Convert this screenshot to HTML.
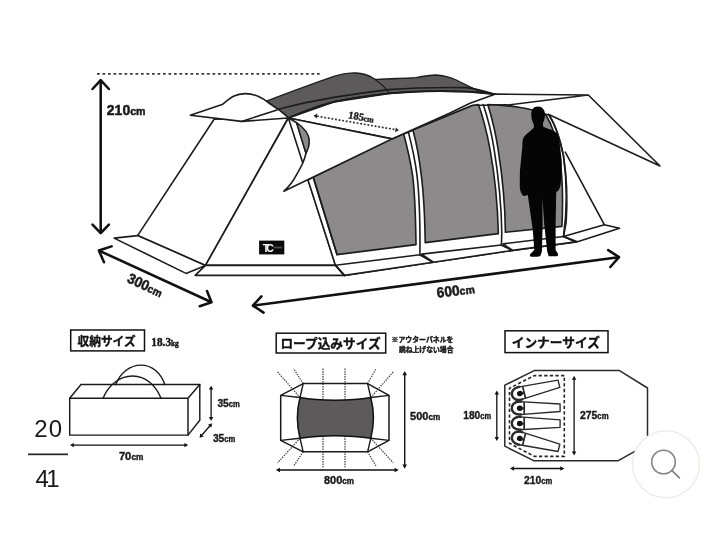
<!DOCTYPE html>
<html lang="ja">
<head>
<meta charset="utf-8">
<title>テント サイズ</title>
<style>
html,body{margin:0;padding:0;background:#fff;}
body{width:713px;height:560px;overflow:hidden;position:relative;font-family:"Liberation Sans","Noto Sans CJK JP",sans-serif;}
svg{position:absolute;left:0;top:0;display:block;will-change:transform;}
.ln{fill:none;stroke:#1c1c1c;stroke-width:1.6;stroke-linejoin:round;stroke-linecap:round;}
.w{fill:#fff;stroke:#1c1c1c;stroke-width:1.6;stroke-linejoin:round;}
.mesh{fill:#8d8a8b;stroke:#1c1c1c;stroke-width:1.6;stroke-linejoin:round;}
.roof{fill:#5c5a5b;stroke:#1c1c1c;stroke-width:1.3;stroke-linejoin:round;}
.ar{fill:none;stroke:#111;stroke-width:2.55;stroke-linecap:round;stroke-linejoin:round;}
.dim{font-family:"Liberation Sans","Noto Sans CJK JP",sans-serif;font-weight:bold;fill:#1a1a1a;stroke:#1a1a1a;stroke-width:0.38px;stroke-linejoin:round;}
.big{stroke-width:0.5px;}
.lab{font-family:"Liberation Sans","Noto Sans CJK JP",sans-serif;font-weight:bold;fill:#111;stroke:#111;stroke-width:0.35px;stroke-linejoin:round;}
.dot{fill:none;stroke:#3c3c3c;stroke-width:1.2;stroke-dasharray:1.4 1.1;}
.sm{fill:none;stroke:#1a1a1a;stroke-width:1.45;stroke-linecap:round;}
</style>
</head>
<body>
<svg width="713" height="560" viewBox="0 0 713 560">
<rect width="713" height="560" fill="#fff"/>

<!-- ===== MAIN TENT ===== -->
<g id="tent">
<!-- dotted height line -->
<line x1="97" y1="73.9" x2="320" y2="73.9" stroke="#3a3a3a" stroke-width="1.7" stroke-dasharray="2.7 2.8"/>

<!-- left side panel -->
<polygon class="w" points="214.1,119.3 288.2,118 205.5,265.4 137.6,235.6"/>
<!-- left skirt -->
<polygon class="w" points="114.1,238.1 137.6,235.6 205.5,265.4 186,273.4"/>
<!-- front triangle -->
<polygon class="w" points="288.4,118 205.5,265.4 335.5,265.4"/>
<!-- front base -->
<polygon class="w" points="205.5,265.4 335.6,265.4 344.5,275.4 195.2,275.4"/>

<!-- rear canopy -->
<polygon fill="#fff" points="470,103.3 494.6,94.1 588.3,95 660,166 548.2,114.3 506.3,105.2 478.5,104.6"/>
<path class="ln" d="M494.6,94.1 L588.3,95 L660,166 L548.2,114.3 M588.3,95 L506.3,105.2"/>

<!-- side wall background (white) -->
<path class="w" d="M308,180 L335.5,265.4 L344.5,275.4 L433.2,262.2 L512.6,250.4 L576,241.9 L563.5,236.5 C566.5,215 567.5,185 563.5,155.8 C560,138 555,124 549,115 L506,104.8 L472.4,105.5 L391.9,138.9 L313.5,177 Z"/>

<!-- mesh panels -->
<path class="mesh" d="M313.5,177 L391.9,138.9 L403.6,133.8 C408,150 411,165 412.6,175.4 C414.5,190 415.6,215 416,244.6 L337,254.6 L313.2,177.2 Z"/>
<path class="mesh" d="M412.9,130 L472.4,105.5 L478.5,104.6 C484,120 487.5,136 489.9,148.6 C493.5,168 497.5,200 498.4,233.6 L425.2,242.6 C424.8,215 423.8,195 421.3,175.4 C419.5,160 416.5,143 412.9,130 Z"/>
<path class="mesh" d="M487.8,104.6 C500,105 510,106 517.3,107 C530,109 540,111 546,115 C552,125 557,140 559.5,155.8 C562.5,175 563.2,200 561.9,226.4 L505.4,232.3 C505.2,205 503,180 498,148.6 C495.5,133 492,118 487.8,104.6 Z"/>
<!-- pole centre lines -->
<path class="ln" d="M408.3,131.9 C412.5,148 415.5,163 417,175.4 C419,192 420,220 420,245 L419.9,254.8"/>
<path class="ln" d="M483.2,104.6 C488.5,120 492,136 494,148.6 C497.5,170 501.3,200 501.8,233 L501.4,245"/>
<!-- rear arch band -->
<path class="ln" d="M549,115 C555,124 560,140 563.5,155.8 C566.5,175 567.6,200 566.2,222 L563.5,236.5"/>

<!-- sills -->
<polygon class="w" points="335.6,265.2 419.9,254.8 433.2,262.2 344.5,275.4"/>
<polygon class="w" points="421.6,254.1 501.4,245 512.6,250.4 433.2,262.2"/>
<polygon class="w" points="503.1,243.9 563.5,236.5 576,241.9 512.6,250.4"/>
<polygon class="w" points="563.5,236.5 604.3,224.7 619.5,228.2 577.5,241.7"/>
<path class="ln" d="M419.9,254.8 L433.2,262.2 M501.4,245 L512.6,250.4 M565,237 L576,241.9" stroke-width="2"/>
<path class="ln" d="M335.6,265.4 L344.5,275.4" stroke-width="1.9"/>
<!-- rear guy line -->
<line class="ln" x1="565.3" y1="152.2" x2="604.3" y2="224.7"/>

<!-- inner edge of front-right -->
<path class="ln" d="M296.6,122.8 L337,254.6"/>

<!-- dark roof -->
<path class="roof" d="M372,79.2 C382,79.6 392,78.8 400,78.3 C408,78 412,77.9 415.9,77.6 C424,76 430,75 436,75 C444,75.2 450,77.3 456.3,80 C461,82.3 465,84.3 468.9,86.3 C476,90 486,93 494.9,94.2 C480,92.4 473,91.8 466.4,91.6 C440,90.6 410,91.4 389.4,93.4 Z"/>
<path class="roof" d="M266.5,101.2 C290,92 315,83 333.8,76.4 C342,73.5 350,72.7 356,73 C363,73.4 369,75.6 373,78 C379,82 386,88 389.4,93.4 C370,95.3 350,98.3 333.8,101.9 C315,106.5 300,113 288.2,118 C286,115.3 282,112.3 278.5,109.6 C275,107.3 271,104 266.5,101.2 Z"/>
<path class="ln" d="M278.2,109.2 C296,104.5 315,100.5 333.8,97.4 C352,94.5 370,91.8 389,89.6 C410,88 440,87.2 466,87.6 C477,89 487,92 494.9,94.2" stroke-width="1.3"/>
<!-- white triangle (185) region -->
<polygon class="w" points="288.4,118 333.8,101.9 389.4,93.4 430,91 466.4,91.6 494.9,94.2 470,103.3 450,113 391.9,138.9"/>
<path d="M288.2,118 C300,113 315,106.5 333.8,101.9 C350,98.3 370,95.3 389.4,93.4 C410,91.4 440,90.6 466.4,91.6 C473,91.8 480,92.4 494.9,94.2" class="ln" stroke-width="1.5"/>

<!-- raised flap -->
<path class="w" d="M288.4,118 L391.9,138.9 L283.9,191.2 C290,185.5 293.5,180.5 295.9,175.8 C299,170.5 301.5,166 303.1,162.2 C304.5,159 305.3,156 306,153.3 C308,149.5 309.3,145 309.2,140.5 C308.6,133.5 303.5,127.5 296.7,122.8 Z"/>
<path d="M296.7,122.8 C303.5,127.5 308.6,133.5 309.2,140.5 C309.3,145 308,149.5 306,153.3 Z" fill="#8d8a8b" stroke="#1c1c1c" stroke-width="1.3" stroke-linejoin="round"/>

<!-- front canopy -->
<path class="w" d="M190.3,115.2 L222.1,104.5 C226,101.5 229.5,98.5 233.4,96.3 C237.5,94.3 241.5,93.5 245.7,93.6 C250,93.7 254.5,94.8 258,96.3 C262,98 265,100 268.3,102.5 C272,105 275,107.3 278.5,109.6 C282,112.3 286,115.3 288.2,118 L241.6,121.4 Z"/>
<line class="ln" x1="241.6" y1="121.4" x2="277" y2="110"/>

<!-- logo -->
<rect x="259.1" y="240.6" width="25.2" height="13.8" fill="#0a0a0a"/>
<text x="262.8" y="251.8" font-family="Liberation Sans, sans-serif" font-weight="bold" font-size="10.5" fill="#fff" letter-spacing="-3">TC</text>
<rect x="273.8" y="246.6" width="8.2" height="1.8" fill="#4a4a4a"/>

<!-- person -->
<path fill="#050505" d="M537.8,106.6 C542.3,106.6 545.1,110 545,114.8 C544.9,118.6 543.8,121.5 542.9,123.6 L543.2,126.8 C547.5,128.4 551,129.6 553.2,130.8 C556.5,132.5 558.5,134.5 559.1,138 C559.6,140.5 559.8,143 560,146 L561.7,160 C561.9,168 561.5,175 561,181 C560.8,186 559.5,189.5 557.6,191.6 L556.3,191.6 L556.2,194 L555.6,225.6 L555.6,249.9 L557.7,253.2 C558.4,255.3 557.8,256.3 556,256.3 L548.7,256.3 C548,253.5 547.6,252.5 547.2,251.4 L544.2,224 L542.4,198 L542.6,225.6 L541.9,251.4 L540.8,254.8 C540.3,256.2 539.5,256.7 537.5,256.7 L531.3,256.8 C529.3,256.4 529.6,254.6 530.8,253.5 L534.3,249.9 L532.8,230.1 L527.8,195 L527,195.2 C524,196.6 522.5,196 521.5,193.5 C519.8,190.5 519.6,187 519.8,183 L519.9,171 L522.4,146 C522.4,141 522.6,138.5 524.5,136.2 C527,133.5 531,130.8 533.9,127.6 L533.8,124.6 C532.2,121.3 531.2,118.4 531.3,114.8 C531.2,110 533.3,106.6 537.8,106.6 Z"/>
</g>

<!-- arrows main -->
<g class="ar">
<path d="M100.7,81 L100.7,232.5"/>
<path d="M92.5,89 L100.7,80.2 L108.9,89"/>
<path d="M92.5,224.6 L100.7,233.2 L108.9,224.6"/>
<path d="M99.5,250.8 L211,302"/>
<path d="M111.6,246.4 L98.9,250.5 L104,262.3"/>
<path d="M207,291 L211.5,302.2 L199.7,306.2"/>
<path d="M253.4,305.5 L618.6,257.3"/>
<path d="M261.4,296.4 L252.9,305.6 L263.6,312.6"/>
<path d="M608.2,250.1 L619,257.1 L610.3,267"/>
</g>
<!-- 185 dotted arrow -->
<line x1="317" y1="116.2" x2="396" y2="129.7" stroke="#2a2a2a" stroke-width="1.6" stroke-dasharray="1.9 1.75"/>
<path d="M313.6,115.7 L317.4,113.6 L316.6,118.5 Z M398.8,130.2 L395,132.3 L395.8,127.4 Z" fill="#222"/>

<!-- dim texts main -->
<text class="dim big" x="106.8" y="114.7" font-size="14.5" textLength="38.8" lengthAdjust="spacingAndGlyphs">210<tspan font-size="11">cm</tspan></text>
<text class="dim big" transform="translate(126.2,281.7) rotate(25.2)" font-size="14.5" textLength="37.3" lengthAdjust="spacingAndGlyphs">300<tspan font-size="11">cm</tspan></text>
<text class="dim big" transform="translate(437.3,297.8) rotate(-7)" font-size="14.5" textLength="38.1" lengthAdjust="spacingAndGlyphs">600<tspan font-size="11">cm</tspan></text>
<text transform="translate(347.8,118.2) rotate(10)" font-family="Liberation Serif, serif" font-weight="bold" font-size="10.6" fill="#222" stroke="#222" stroke-width="0.4" textLength="26" lengthAdjust="spacingAndGlyphs">185<tspan font-size="8">cm</tspan></text>

<!-- ===== STORAGE SIZE ===== -->
<g id="storage">
<rect x="70.7" y="330" width="73.8" height="20.9" fill="#fff" stroke="#111" stroke-width="1.5"/>
<text class="lab" x="77.6" y="345.6" font-size="12" textLength="58" lengthAdjust="spacingAndGlyphs">収納サイズ</text>
<text x="151.3" y="346.4" font-family="Liberation Serif, serif" font-weight="bold" fill="#1a1a1a" stroke="#1a1a1a" stroke-width="0.45" font-size="11.5" textLength="27.5" lengthAdjust="spacingAndGlyphs">18.3<tspan font-size="7.5">kg</tspan></text>
<!-- box -->
<path class="sm" d="M115.8,384.5 C120,373 130,365.1 141,365.1 C152,365.1 161,373 164.8,384.5"/>
<polygon class="sm" fill="#fff" points="69.7,398.2 81,384.5 199.8,384.5 199.8,420.3 188,435.1 69.7,435.1"/>
<path class="sm" d="M69.7,398.2 L188,398.2 L188,435.1 M188,398.2 L199.8,384.5"/>
<path class="sm" d="M103.1,398.2 C108,386 119,376 132.6,376 C146,376 156,386 161,398.2"/>
<!-- arrows -->
<g stroke="#111" stroke-width="1.3" fill="#111">
<line x1="211.1" y1="388" x2="211.1" y2="419"/>
<path d="M211.1,385.8 L213.3,389.6 L208.9,389.6 Z M211.1,420.9 L213.3,417.1 L208.9,417.1 Z" stroke="none"/>
<line x1="200.8" y1="436.3" x2="210.9" y2="424.7"/>
<path d="M199.6,437.8 L200.3,433.5 L203.7,436.4 Z M212.1,423.3 L211.4,427.6 L208,424.7 Z" stroke="none"/>
<line x1="72" y1="445.1" x2="186" y2="445.1"/>
<path d="M70,445.1 L73.8,442.9 L73.8,447.3 Z M188.2,445.1 L184.4,442.9 L184.4,447.3 Z" stroke="none"/>
</g>
<text class="dim" x="217.4" y="407.3" font-size="11.2" textLength="22.5" lengthAdjust="spacingAndGlyphs">35<tspan font-size="8.3">cm</tspan></text>
<text class="dim" x="212.9" y="442.4" font-size="11.2" textLength="22.5" lengthAdjust="spacingAndGlyphs">35<tspan font-size="8.3">cm</tspan></text>
<text class="dim" x="118.9" y="460.3" font-size="11.2" textLength="24.5" lengthAdjust="spacingAndGlyphs">70<tspan font-size="8.3">cm</tspan></text>
</g>

<!-- page counter -->
<text x="34.2" y="436.8" font-family="Liberation Sans, sans-serif" font-size="24" fill="#1a1a1a" letter-spacing="1.2">20</text>
<rect x="28" y="453.5" width="40" height="1.7" fill="#222"/>
<text x="35.6" y="486.6" font-family="Liberation Sans, sans-serif" font-size="24" fill="#1a1a1a" letter-spacing="-2.8">41</text>

<!-- ===== ROPE SIZE ===== -->
<g id="rope">
<rect x="276.2" y="333.2" width="109.5" height="19.8" fill="#fff" stroke="#111" stroke-width="1.5"/>
<text class="lab" x="280.4" y="347.9" font-size="12.8" textLength="100.2" lengthAdjust="spacingAndGlyphs">ロープ込みサイズ</text>
<text class="lab" x="391.6" y="342.2" font-size="6.85" textLength="61.8" lengthAdjust="spacingAndGlyphs">※アウターパネルを</text>
<text class="lab" x="398.9" y="351.7" font-size="6.85" textLength="54.6" lengthAdjust="spacingAndGlyphs">跳ね上げない場合</text>
<!-- dotted guy lines -->
<g class="dot">
<path d="M323,368.6 L323,467.2 M345,368.6 L345,467.2"/>
<path d="M303.2,383.6 L293.6,368.6 M300,397.5 L277.5,371.8"/>
<path d="M367.6,383.6 L376.1,368.6 M370.8,397.5 L393.3,371.8"/>
<path d="M303.2,451.8 L293.6,466.1 M300,438.3 L277.5,462.9"/>
<path d="M367.6,451.8 L376.1,466.1 M370.8,438.3 L393.3,462.9"/>
</g>
<polygon points="280.7,395.4 303.2,383.6 367.6,383.6 389,395.4 389,440.4 367.6,451.8 303.2,451.8 280.7,440.4" fill="none" stroke="#1a1a1a" stroke-width="1.5" stroke-linejoin="round"/>
<path d="M300,397.5 C320,401 350,401 370.8,397.5 C374.5,412 374.5,424 370.8,438.3 C350,434.8 320,434.8 300,438.3 C296.3,424 296.3,412 300,397.5 Z" fill="#5c5a5b" stroke="#111" stroke-width="1.5"/>
<path d="M303.2,383.6 L300,397.5 M367.6,383.6 L370.8,397.5 M303.2,451.8 L300,438.3 M367.6,451.8 L370.8,438.3 M280.7,395.4 L300,397.5 M389,395.4 L370.8,397.5 M280.7,440.4 L300,438.3 M389,440.4 L370.8,438.3" fill="none" stroke="#1a1a1a" stroke-width="1.4"/>
<!-- arrows -->
<g stroke="#111" stroke-width="1.4" fill="#111">
<line x1="404.7" y1="373.5" x2="404.7" y2="466.5"/>
<path d="M404.7,371 L407,375.2 L402.4,375.2 Z M404.7,468.8 L407,464.6 L402.4,464.6 Z" stroke="none"/>
<line x1="278" y1="470" x2="396.5" y2="470"/>
<path d="M275.8,470 L280,467.7 L280,472.3 Z M398.8,470 L394.6,467.7 L394.6,472.3 Z" stroke="none"/>
</g>
<text class="dim" x="410.1" y="419.5" font-size="11.2" textLength="30.1" lengthAdjust="spacingAndGlyphs">500<tspan font-size="8.3">cm</tspan></text>
<text class="dim" x="324" y="484" font-size="11.2" textLength="30" lengthAdjust="spacingAndGlyphs">800<tspan font-size="8.3">cm</tspan></text>
</g>

<!-- ===== INNER SIZE ===== -->
<g id="inner">
<rect x="505" y="330.8" width="103" height="21.8" fill="#fff" stroke="#111" stroke-width="1.5"/>
<text class="lab" x="511.7" y="346.6" font-size="12.6" textLength="88.3" lengthAdjust="spacingAndGlyphs">インナーサイズ</text>
<polygon points="504.8,385.2 534.2,370.6 619.5,370.6 647.5,388 647.5,444.4 617.8,460.8 534.2,460.8 504.8,446.2" fill="#fff" stroke="#2a2a2a" stroke-width="1.5" stroke-linejoin="round"/>
<polyline points="564.3,375.6 534.4,375.6 509.5,388.2 509.5,443.3 534.4,456.4 564.3,456.4 564.3,375.6" fill="none" stroke="#262626" stroke-width="1.6" stroke-dasharray="3.3 2.3"/>
<!-- sleeping bags -->
<g fill="#fff" stroke="#2a2a2a" stroke-width="1.35" stroke-linejoin="round">
<g transform="translate(519.6,393.4) rotate(-13.8)"><path d="M0,-6.45 L40.5,-3.75 L40.5,3.75 L0,6.45 C-10.4,6.45 -10.4,-6.45 0,-6.45 Z"/><path d="M2,-6.45 L0,-6.45 C-10.4,-6.45 -10.4,6.45 0,6.45 L2,6.45" fill="none" stroke-width="2.4"/><ellipse cx="0.2" cy="0.2" rx="2.9" ry="2.7" fill="#111" stroke="none"/><path d="M4.6,-6.1 L4.6,6.1" stroke-width="1.7"/><path d="M2,0.4 L4.6,0.4" stroke-width="2.2"/></g>
<g transform="translate(519.6,408.1) rotate(-0.5)"><path d="M0,-6.45 L40.5,-3.75 L40.5,3.75 L0,6.45 C-10.4,6.45 -10.4,-6.45 0,-6.45 Z"/><path d="M2,-6.45 L0,-6.45 C-10.4,-6.45 -10.4,6.45 0,6.45 L2,6.45" fill="none" stroke-width="2.4"/><ellipse cx="0.2" cy="0.2" rx="2.9" ry="2.7" fill="#111" stroke="none"/><path d="M4.6,-6.1 L4.6,6.1" stroke-width="1.7"/><path d="M2,0.4 L4.6,0.4" stroke-width="2.2"/></g>
<g transform="translate(519.6,423.3) rotate(0.5)"><path d="M0,-6.45 L40.5,-3.75 L40.5,3.75 L0,6.45 C-10.4,6.45 -10.4,-6.45 0,-6.45 Z"/><path d="M2,-6.45 L0,-6.45 C-10.4,-6.45 -10.4,6.45 0,6.45 L2,6.45" fill="none" stroke-width="2.4"/><ellipse cx="0.2" cy="0.2" rx="2.9" ry="2.7" fill="#111" stroke="none"/><path d="M4.6,-6.1 L4.6,6.1" stroke-width="1.7"/><path d="M2,0.4 L4.6,0.4" stroke-width="2.2"/></g>
<g transform="translate(519.6,438.2) rotate(13.8)"><path d="M0,-6.45 L40.5,-3.75 L40.5,3.75 L0,6.45 C-10.4,6.45 -10.4,-6.45 0,-6.45 Z"/><path d="M2,-6.45 L0,-6.45 C-10.4,-6.45 -10.4,6.45 0,6.45 L2,6.45" fill="none" stroke-width="2.4"/><ellipse cx="0.2" cy="0.2" rx="2.9" ry="2.7" fill="#111" stroke="none"/><path d="M4.6,-6.1 L4.6,6.1" stroke-width="1.7"/><path d="M2,0.4 L4.6,0.4" stroke-width="2.2"/></g>
</g>
<!-- arrows -->
<g stroke="#111" stroke-width="1.3" fill="#111">
<line x1="574.1" y1="378" x2="574.1" y2="453.5"/>
<path d="M574.1,375.8 L576.3,379.8 L571.9,379.8 Z M574.1,455.6 L576.3,451.6 L571.9,451.6 Z" stroke="none"/>
<line x1="496.8" y1="392.5" x2="496.8" y2="439"/>
<path d="M496.8,390.4 L499,394.4 L494.6,394.4 Z M496.8,441 L499,437 L494.6,437 Z" stroke="none"/>
<line x1="512" y1="468.5" x2="562.5" y2="468.5"/>
<path d="M510,468.5 L514,466.3 L514,470.7 Z M564.3,468.5 L560.3,466.3 L560.3,470.7 Z" stroke="none"/>
</g>
<text class="dim" x="579.9" y="418.6" font-size="11.2" textLength="28.7" lengthAdjust="spacingAndGlyphs">275<tspan font-size="8.3">cm</tspan></text>
<text class="dim" x="463.3" y="418.6" font-size="11.2" textLength="27.8" lengthAdjust="spacingAndGlyphs">180<tspan font-size="8.3">cm</tspan></text>
<text class="dim" x="524.1" y="484" font-size="11.2" textLength="28.2" lengthAdjust="spacingAndGlyphs">210<tspan font-size="8.3">cm</tspan></text>
</g>

<!-- magnifier button -->
<circle cx="666" cy="464.3" r="33.4" fill="#fff" stroke="#eeebe5" stroke-width="1.4"/>
<circle cx="663.5" cy="462" r="11.8" fill="none" stroke="#828282" stroke-width="1.55"/>
<line x1="672" y1="470.6" x2="679.4" y2="477.8" stroke="#828282" stroke-width="1.7" stroke-linecap="round"/>
</svg>
</body>
</html>
